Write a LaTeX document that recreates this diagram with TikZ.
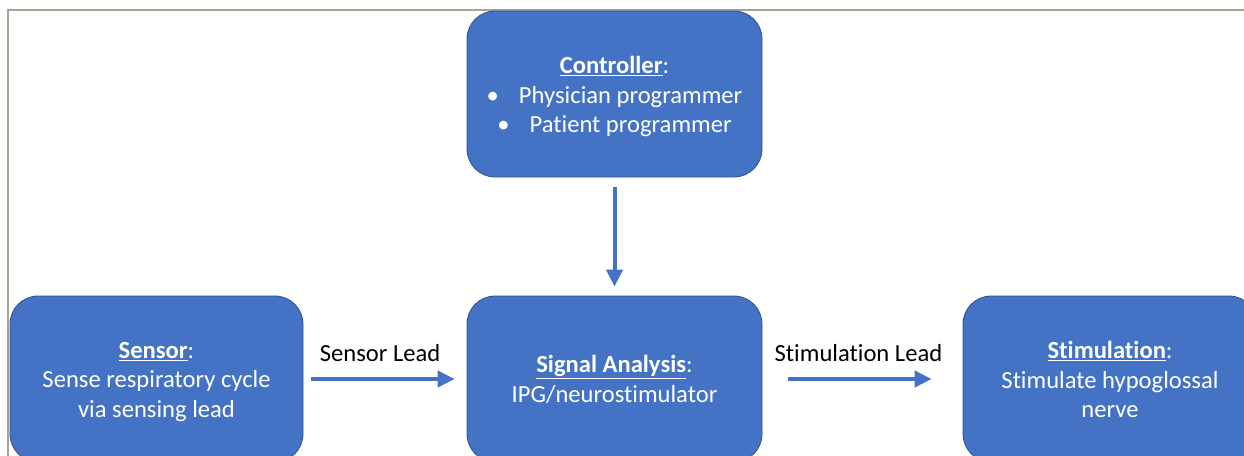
\documentclass[tikz,border=0pt]{standalone}
\usepackage{fontspec}
\setmainfont{Carlito}[Ligatures=NoCommon]
\usetikzlibrary{arrows.meta}
\definecolor{boxblue}{HTML}{4472C4}
\definecolor{boxedge}{HTML}{2F528F}
\definecolor{frameline}{RGB}{165,165,145}
\tikzset{
  blockbox/.style={rectangle, rounded corners=28pt, fill=boxblue, draw=boxedge,
    line width=0.8pt, inner sep=0pt},
  boxtext/.style={align=center, text=white, inner sep=0pt,
    font=\fontsize{24.6}{29.6}\selectfont},
  flowarrow/.style={draw=boxblue, line width=4pt,
    -{Triangle[length=17pt,width=16pt]}},
  leadlabel/.style={font=\fontsize{24.6}{29.6}\selectfont, text=black, inner sep=0pt}
}
\newcommand{\headword}[1]{\underline{\textbf{#1}}:}
\begin{document}
\begin{tikzpicture}[x=1pt,y=-1pt]
  \clip (0,0) rectangle (1244,455);
  \fill[white] (0,0) rectangle (1244,455);
  \draw[frameline, line width=1.4pt] (8,460) -- (8,10) -- (1250,10);

  \node[blockbox, minimum width=295pt, minimum height=166pt,
    label={[boxtext, yshift=-2.5pt]center:{\headword{Controller}\\
     \textbullet\hspace{20pt}Physician programmer\\
     \textbullet\hspace{20pt}Patient programmer}}] (ctrl) at (614.5,94) {};
  \node[blockbox, minimum width=293pt, minimum height=166pt,
    label={[boxtext, yshift=-3pt]center:{\headword{Sensor}\\ Sense respiratory cycle\\ via sensing lead}}]
    (sensor) at (156.5,379) {};
  \node[blockbox, minimum width=295pt, minimum height=166pt,
    label={[boxtext, yshift=-0.5pt]center:{\headword{Signal Analysis}\\ IPG/neurostimulator}}]
    (signal) at (614.5,379) {};
  \node[blockbox, minimum width=294pt, minimum height=166pt,
    label={[boxtext, yshift=-0.5pt]center:{\headword{Stimulation}\\ Stimulate hypoglossal\\ nerve}}]
    (stim) at (1110,379) {};

  \draw[flowarrow, shorten <=10pt, shorten >=9pt] (ctrl.south) -- (signal.north);
  \draw[flowarrow, shorten <=8pt, shorten >=12pt] (sensor.east) -- (signal.west)
    node[leadlabel, pos=0.47, yshift=26pt] {Sensor Lead};
  \draw[flowarrow, shorten <=26pt, shorten >=31pt] (signal.east) -- (stim.west)
    node[leadlabel, pos=0.48, yshift=26pt] {Stimulation Lead};
\end{tikzpicture}
\end{document}
